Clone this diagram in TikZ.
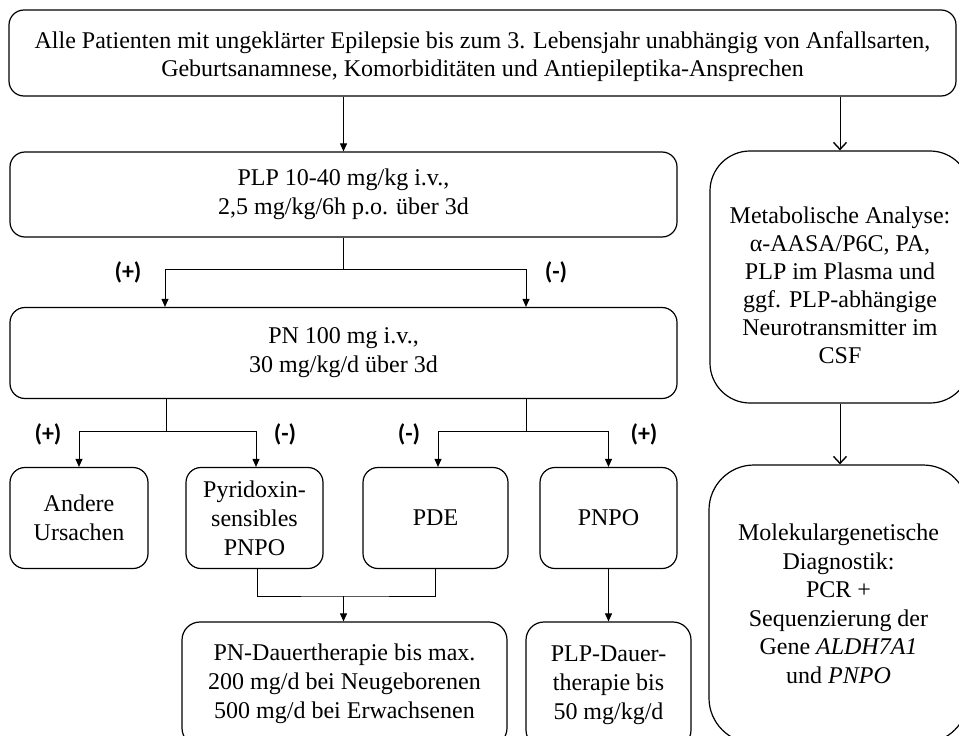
\documentclass[tikz,border=0pt]{standalone}
\usepackage{fontspec}
\setmainfont{Liberation Serif}
\newfontfamily\lblfont{Carlito}
\usetikzlibrary{arrows.meta}
\tikzset{
  box/.style={draw, line width=1.2pt, rounded corners=15pt, align=center, inner sep=0pt,
    font=\fontsize{24}{29}\selectfont},
  txt/.style={align=center, inner sep=0pt, font=\fontsize{24}{28}\selectfont},
  conn/.style={line width=1pt},
  arr/.style={conn, -{Triangle[length=8pt,width=7pt]}},
  oarr/.style={conn, -{Straight Barb[length=7pt,width=13pt,line width=1.4pt]}},
  lbl/.style={inner sep=0pt, font=\lblfont\bfseries\fontsize{24}{26}\selectfont}
}
\begin{document}
\begin{tikzpicture}[x=1pt,y=-1pt]
\useasboundingbox (0,0) rectangle (959,736);
\fill[white] (0,0) rectangle (959,736);

\node[box, minimum width=947pt, minimum height=86pt] (top) at (482.5,53) {};
\node[txt] (topt) at (482.5,57)
  {Alle Patienten mit ungeklärter Epilepsie bis zum 3. Lebensjahr unabhängig von Anfallsarten,\\
   Geburtsanamnese, Komorbiditäten und Antiepileptika-Ansprechen};

\node[box, minimum width=667pt, minimum height=85pt] (plp) at (343.5,194.5)
  {PLP 10-40 mg/kg i.v.,\\ 2,5 mg/kg/6h p.o. über 3d};

\node[box, minimum width=667pt, minimum height=91pt] (pn) at (343.5,353)
  {PN 100 mg i.v.,\\ 30 mg/kg/d über 3d};

\node[box, minimum width=138pt, minimum height=101pt] (andere) at (79,518)
  {Andere\\ Ursachen};
\node[box, minimum width=137pt, minimum height=101pt] (pyr) at (254.5,518)
  {Pyridoxin-\\ sensibles\\ PNPO};
\node[box, minimum width=145pt, minimum height=101pt] (pde) at (435.5,518)
  {PDE};
\node[box, minimum width=137pt, minimum height=101pt] (pnpo) at (608.5,518)
  {PNPO};

\node[box, rounded corners=18pt, minimum width=325pt, minimum height=124pt] (pnd) at (344.5,684)
  {PN-Dauertherapie bis max.\\ 200 mg/d bei Neugeborenen\\ 500 mg/d bei Erwachsenen};
\node[box, rounded corners=18pt, minimum width=165pt, minimum height=126pt] (plpd) at (608.5,685)
  {PLP-Dauer-\\ therapie bis\\ 50 mg/kg/d};

\node[box, rounded corners=40pt, minimum width=260pt, minimum height=252pt] (meta) at (840,277) {};
\node[txt] (metat) at (840,285)
  {Metabolische Analyse:\\ α-AASA/P6C, PA,\\ PLP im Plasma und\\ ggf. PLP-abhängige\\ Neurotransmitter im\\ CSF};

\node[box, rounded corners=45pt, minimum width=259pt, minimum height=278pt, font=\fontsize{24}{28.5}\selectfont] (mol) at (838.5,604)
  {Molekulargenetische\\ Diagnostik:\\ PCR +\\ Sequenzierung der\\ Gene \textit{ALDH7A1}\\ und \textit{PNPO}};

% connectors
\draw[arr] (top.south -| plp.north) -- (plp.north);
\draw[oarr] (top.south -| meta.north) -- (meta.north);

\coordinate (j1L) at (165,269);
\coordinate (j1R) at (526,269);
\draw[conn] (plp.south) -- (plp.south |- j1L);
\draw[arr] (plp.south |- j1L) -- (j1L) -- (j1L |- pn.north);
\draw[arr] (plp.south |- j1R) -- (j1R) -- (j1R |- pn.north);

\coordinate (b1) at (166,431);
\coordinate (b2) at (526,431);
\draw[conn] (b1 |- pn.south) -- (b1);
\draw[conn] (b2 |- pn.south) -- (b2);
\draw[arr] (b1) -| (andere.north);
\draw[arr] (b1) -| ([xshift=1.5pt]pyr.north);
\draw[arr] (b2) -| ([xshift=2.5pt]pde.north);
\draw[arr] (b2) -| (pnpo.north);

\coordinate (m1) at (343.5,596);
\draw[conn] ([xshift=2.5pt]pyr.south) |- (m1) -| (pde.south);
\draw[arr] (m1) -- (m1 |- pnd.north);

\draw[arr] (pnpo.south) -- (plpd.north);
\draw[oarr] (meta.south) -- (meta.south |- mol.north);

% labels
\node[lbl] (l1) at (128,272) {(+)};
\node[lbl] (l2) at (556,272) {(-)};
\node[lbl] (l3) at (48,434) {(+)};
\node[lbl] (l4) at (285,434) {(-)};
\node[lbl] (l5) at (409,434) {(-)};
\node[lbl] (l6) at (644,434) {(+)};
\end{tikzpicture}
\end{document}
